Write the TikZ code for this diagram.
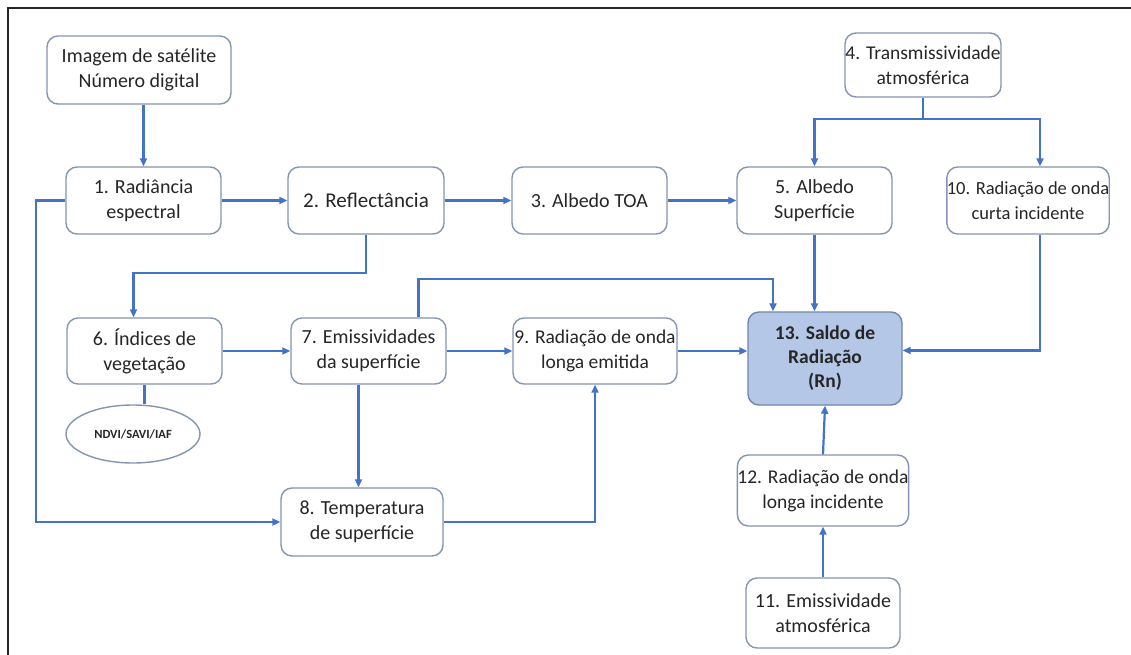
\documentclass[tikz,border=0pt]{standalone}
\usepackage{fontspec}
\setmainfont{Carlito}
\usetikzlibrary{arrows.meta,shapes.geometric}
\definecolor{arr}{HTML}{4472C4}
\definecolor{bord}{HTML}{8494B2}
\definecolor{fillb}{HTML}{B4C7E7}
\definecolor{bordb}{HTML}{7085AE}
\definecolor{txt}{HTML}{262626}
\begin{document}
\begin{tikzpicture}[x=1pt,y=-1pt,
  box/.style={draw=bord, line width=1.4pt, rounded corners=11pt, fill=white, align=center,
    inner sep=0pt, text=txt, font=\fontsize{20}{25}\selectfont},
  mainbox/.style={box, draw=bordb, fill=fillb, font=\bfseries\fontsize{19.5}{24}\selectfont},
  oval/.style={draw=bord, line width=1.4pt, ellipse, inner sep=0pt, text=txt,
    font=\bfseries\fontsize{12.5}{15}\selectfont},
  conn/.style={draw=arr, line width=2.2pt, -{Triangle[length=8pt,width=7pt]}},
  link/.style={draw=arr, line width=2.2pt}]
\useasboundingbox (0,0) rectangle (1131,655);
\fill[white] (0,0) rectangle (1131,655);
% frame
\draw[line width=2.5pt, black!85] (8,655) -- (8,8) -- (1131,8);

% nodes
\node[box, minimum width=184pt, minimum height=68pt] (img) at (139,70) {Imagem de satélite\\Número digital};
\node[box, minimum width=156pt, minimum height=64pt, font=\fontsize{19.5}{25}\selectfont] (t4) at (923,65) {4. Transmissividade\\atmosférica};
\node[box, minimum width=155pt, minimum height=67pt] (n1) at (143.5,200.5) {1. Radiância\\espectral};
\node[box, minimum width=156pt, minimum height=67pt, font=\fontsize{21}{25}\selectfont] (n2) at (366,200.5) {2. Reflectância};
\node[box, minimum width=155pt, minimum height=67pt] (n3) at (589.5,200.5) {3. Albedo TOA};
\node[box, minimum width=155pt, minimum height=67pt] (n5) at (814.5,200.5) {5. Albedo\\Superfície};
\node[box, minimum width=156pt, minimum height=67pt, font=\fontsize{18.5}{25}\selectfont] (n10) at (1028,200.5) {10. Radiação de onda\\curta incidente};
\node[box, minimum width=155pt, minimum height=66pt] (n6) at (144.5,351) {6. Índices de\\vegetação};
\node[box, minimum width=155pt, minimum height=66pt] (n7) at (368.5,351) {7. Emissividades\\da superfície};
\node[box, minimum width=164pt, minimum height=66pt, font=\fontsize{19.5}{25}\selectfont] (n9) at (595,351) {9. Radiação de onda\\longa emitida};
\node[mainbox, minimum width=154pt, minimum height=93pt] (n13) at (825,358.5) {13. Saldo de\\Radiação\\(Rn)};
\node[oval, minimum width=134pt, minimum height=58pt] (ndvi) at (133,434) {NDVI/SAVI/IAF};
\node[box, minimum width=162pt, minimum height=68pt] (n8) at (362,522) {8. Temperatura\\de superfície};
\node[box, minimum width=170pt, minimum height=71pt, font=\fontsize{19.5}{25}\selectfont] (n12) at (823,490.5) {12. Radiação de onda\\longa incidente};
\node[box, minimum width=154pt, minimum height=70pt] (n11) at (823,613) {11. Emissividade\\atmosférica};

% connectors
\draw[conn] (img.south -| n1.north) -- (n1.north);
\draw[conn] (n1.east) -- (n2.west);
\draw[conn] (n2.east) -- (n3.west);
\draw[conn] (n3.east) -- (n5.west);
\draw[link] (t4.south) -- ++(0,21) coordinate (tb);
\draw[conn] (tb) -| (n5.north);
\draw[conn] (tb) -| ([xshift=12pt]n10.north);
\draw[conn] (n5.south) -- (n5.south |- n13.north);
\draw[conn] ([xshift=12pt]n10.south) |- ([yshift=8pt]n13.east);
\draw[conn] (n2.south) -- ++(0,38) -| ([xshift=-11pt]n6.north);
\draw[conn] (n6.east) -- (n7.west);
\draw[conn] (n7.east) -- (n9.west);
\draw[conn] (n9.east) -- (n9.east -| n13.west);
\draw[conn] ([xshift=50pt]n7.north) -- ++(0,-38) -| ([xshift=-52pt]n13.north);
\draw[link] (n6.south) -- (n6.south |- ndvi.north);
\draw[conn] ([xshift=-10pt]n7.south) -- ([xshift=-10pt]n7.south |- n8.north);
\draw[conn] (n1.west) -- ++(-29,0) |- (n8.west);
\draw[conn] (n8.east) -| (n9.south);
\draw[conn] (n12.north) -- (n13.south);
\draw[conn] (n11.north) -- (n12.south);
\end{tikzpicture}
\end{document}
